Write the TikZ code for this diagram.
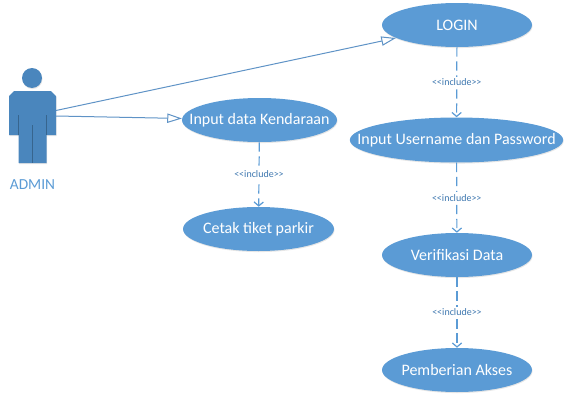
\documentclass[tikz,border=0pt]{standalone}
\usepackage{fontspec}
\setmainfont{Carlito}
\usetikzlibrary{positioning,shapes,shadows,arrows.meta}
\definecolor{ucblue}{HTML}{5B9BD5}
\definecolor{actorblue}{HTML}{4A86BD}
\definecolor{linkblue}{HTML}{5F93C6}
\definecolor{textblue}{HTML}{3F78B0}
\tikzset{
  usecase/.style={ellipse, fill=ucblue, text=white, inner xsep=-30pt, inner ysep=0pt, font=\fontsize{12}{14}\selectfont,
    drop shadow={shadow xshift=0.4pt, shadow yshift=-0.8pt, opacity=0.2}},
  assoc/.style={line width=0.75, color=linkblue, -{Triangle[open, fill=white, length=11pt, width=7pt]}},
  incl/.style={line width=0.9, color=ucblue, dash pattern=on 7pt off 3.5pt, -{Straight Barb[length=3pt, width=7pt]}},
  incllabel/.style={fill=white, text=textblue, inner sep=1.5pt, font=\fontsize{7.5}{9}\selectfont}
}
\begin{document}
\begin{tikzpicture}[x=0.75pt, y=-0.75pt]
\useasboundingbox (0,0) rectangle (569,400);
\node[usecase, minimum width=112.5pt, minimum height=33pt] (login) at (457,25) {LOGIN};
\node[usecase, minimum width=160pt, minimum height=33.75pt] (username) at (456.5,140) {Input Username dan Password};
\node[usecase, minimum width=112.5pt, minimum height=33pt] (verifikasi) at (457,255) {Verifikasi Data};
\node[usecase, minimum width=112.5pt, minimum height=33pt] (akses) at (457,370) {Pemberian Akses};
\node[usecase, minimum width=116.25pt, minimum height=33pt] (kendaraan) at (259.5,120) {Input data Kendaraan};
\node[usecase, minimum width=113.25pt, minimum height=33pt] (tiket) at (258.5,229) {Cetak tiket parkir};
\fill[actorblue, drop shadow={shadow xshift=0.4pt, shadow yshift=-0.8pt, opacity=0.2}] (32,78) circle (7.5pt);
\fill[actorblue, drop shadow={shadow xshift=0.4pt, shadow yshift=-0.8pt, opacity=0.2}] (14,91) -- (51,91) -- (56,96) -- (56,135) -- (46.5,135) -- (46.5,163) -- (18.5,163) -- (18.5,135) -- (9,135) -- (9,96) -- cycle;
\draw[line width=0.5, color=actorblue!75!black] (18.5,115) -- (18.5,135);
\draw[line width=0.5, color=actorblue!75!black] (46.5,115) -- (46.5,135);
\draw[line width=0.5, color=actorblue!75!black] (32.5,125) -- (32.5,163);
\node[text=ucblue, font=\fontsize{11.5}{13}\selectfont, inner sep=0pt] (admin) at (32.5,185) {ADMIN};
\coordinate (adminTop) at (56,110.5);
\coordinate (adminBottom) at (56,116);
\draw[assoc] (adminTop) -- (login);
\draw[assoc] (adminBottom) -- (kendaraan);
\draw[incl] (login) -- node[incllabel] {{<}{<}include{>}{>}} (username);
\draw[incl] (username) -- node[incllabel] {{<}{<}include{>}{>}} (verifikasi);
\draw[incl] (verifikasi) -- node[incllabel] {{<}{<}include{>}{>}} (akses);
\draw[incl] (kendaraan) -- node[incllabel] {{<}{<}include{>}{>}} (tiket);
\end{tikzpicture}
\end{document}
